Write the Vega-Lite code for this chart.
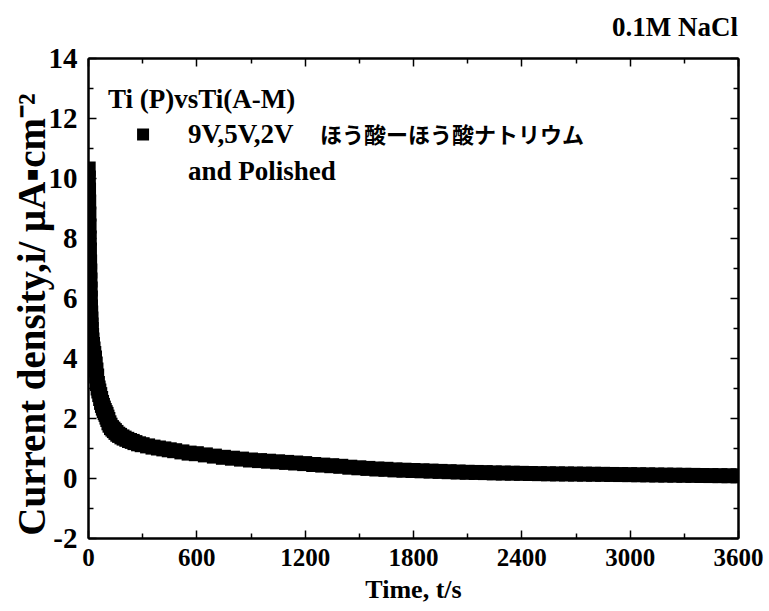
{
  "$schema": "https://vega.github.io/schema/vega-lite/v6.json",
  "width": 650,
  "height": 480,
  "autosize": "none",
  "padding": {"left": 88, "top": 58, "right": 31, "bottom": 73},
  "background": "white",
  "config": {
    "view": {"stroke": null},
    "axis": {
      "grid": false,
      "zindex": 1,
      "domainColor": "black",
      "domainWidth": 2,
      "tickColor": "black",
      "tickWidth": 1.5,
      "labelFont": "Liberation Serif",
      "labelFontWeight": "bold",
      "labelColor": "black",
      "labelFlush": false,
      "labelOverlap": false,
      "titleFont": "Liberation Serif",
      "titleFontWeight": "bold",
      "titleColor": "black"
    },
    "text": {"font": "Liberation Serif", "fontWeight": "bold", "color": "black", "baseline": "alphabetic"}
  },
  "datasets": {
    "current": [
      {"t": 1, "v": 10.3}, {"t": 2, "v": 10.0}, {"t": 3, "v": 9.6}, {"t": 4, "v": 9.2},
      {"t": 5, "v": 8.8}, {"t": 6, "v": 8.4}, {"t": 7, "v": 8.0}, {"t": 8, "v": 7.6},
      {"t": 9, "v": 7.2}, {"t": 10, "v": 6.9}, {"t": 11, "v": 6.6}, {"t": 12, "v": 6.3},
      {"t": 13, "v": 6.0}, {"t": 14, "v": 5.7}, {"t": 15, "v": 5.5}, {"t": 16, "v": 5.3},
      {"t": 17, "v": 5.1}, {"t": 18, "v": 4.95}, {"t": 20, "v": 4.75}, {"t": 22, "v": 4.6},
      {"t": 25, "v": 4.45}, {"t": 28, "v": 4.3}, {"t": 32, "v": 4.15}, {"t": 36, "v": 4.0},
      {"t": 40, "v": 3.8}, {"t": 44, "v": 3.6}, {"t": 48, "v": 3.4}, {"t": 52, "v": 3.15},
      {"t": 56, "v": 3.0}, {"t": 60, "v": 2.9}, {"t": 65, "v": 2.78}, {"t": 70, "v": 2.65},
      {"t": 75, "v": 2.52}, {"t": 80, "v": 2.42}, {"t": 85, "v": 2.33}, {"t": 90, "v": 2.25},
      {"t": 95, "v": 2.18}, {"t": 100, "v": 2.12}, {"t": 105, "v": 2.03}, {"t": 110, "v": 1.95},
      {"t": 116, "v": 1.84}, {"t": 122, "v": 1.76}, {"t": 130, "v": 1.68}, {"t": 138, "v": 1.63},
      {"t": 146, "v": 1.58}, {"t": 155, "v": 1.52}, {"t": 165, "v": 1.46}, {"t": 175, "v": 1.42},
      {"t": 188, "v": 1.37}, {"t": 200, "v": 1.33}, {"t": 215, "v": 1.29}, {"t": 230, "v": 1.25},
      {"t": 245, "v": 1.22}, {"t": 260, "v": 1.18}, {"t": 280, "v": 1.14}, {"t": 300, "v": 1.11},
      {"t": 330, "v": 1.07}, {"t": 360, "v": 1.03}, {"t": 390, "v": 1.0}, {"t": 420, "v": 0.97},
      {"t": 450, "v": 0.94}, {"t": 480, "v": 0.91}, {"t": 520, "v": 0.87}, {"t": 560, "v": 0.83},
      {"t": 600, "v": 0.81}, {"t": 650, "v": 0.77}, {"t": 700, "v": 0.73}, {"t": 750, "v": 0.69},
      {"t": 800, "v": 0.66}, {"t": 850, "v": 0.63}, {"t": 900, "v": 0.6}, {"t": 950, "v": 0.58},
      {"t": 1000, "v": 0.56}, {"t": 1050, "v": 0.54}, {"t": 1100, "v": 0.52}, {"t": 1150, "v": 0.5},
      {"t": 1200, "v": 0.48}, {"t": 1250, "v": 0.45}, {"t": 1300, "v": 0.43}, {"t": 1350, "v": 0.41},
      {"t": 1400, "v": 0.39}, {"t": 1450, "v": 0.36}, {"t": 1500, "v": 0.34}, {"t": 1550, "v": 0.32},
      {"t": 1600, "v": 0.3}, {"t": 1650, "v": 0.29}, {"t": 1700, "v": 0.27}, {"t": 1750, "v": 0.26},
      {"t": 1800, "v": 0.25}, {"t": 1850, "v": 0.24}, {"t": 1900, "v": 0.23}, {"t": 1950, "v": 0.22},
      {"t": 2000, "v": 0.21}, {"t": 2050, "v": 0.2}, {"t": 2100, "v": 0.19}, {"t": 2150, "v": 0.185},
      {"t": 2200, "v": 0.18}, {"t": 2250, "v": 0.17}, {"t": 2300, "v": 0.165}, {"t": 2350, "v": 0.16},
      {"t": 2400, "v": 0.155}, {"t": 2450, "v": 0.15}, {"t": 2500, "v": 0.145}, {"t": 2550, "v": 0.14},
      {"t": 2600, "v": 0.137}, {"t": 2650, "v": 0.134}, {"t": 2700, "v": 0.131}, {"t": 2750, "v": 0.128},
      {"t": 2800, "v": 0.125}, {"t": 2850, "v": 0.122}, {"t": 2900, "v": 0.118}, {"t": 2950, "v": 0.115},
      {"t": 3000, "v": 0.112}, {"t": 3050, "v": 0.108}, {"t": 3100, "v": 0.105}, {"t": 3150, "v": 0.1},
      {"t": 3200, "v": 0.097}, {"t": 3250, "v": 0.094}, {"t": 3300, "v": 0.09}, {"t": 3350, "v": 0.087},
      {"t": 3400, "v": 0.084}, {"t": 3450, "v": 0.081}, {"t": 3500, "v": 0.078}, {"t": 3550, "v": 0.075},
      {"t": 3600, "v": 0.072}
    ]
  },
  "layer": [
    {
      "data": {"name": "current"},
      "mark": {"type": "point", "shape": "square", "filled": true, "size": 225, "color": "black", "opacity": 1, "strokeWidth": 0, "clip": true},
      "encoding": {
        "x": {
          "field": "t", "type": "quantitative",
          "scale": {"domain": [0, 3600], "nice": false, "zero": false},
          "axis": {
            "orient": "bottom",
            "values": [0, 600, 1200, 1800, 2400, 3000, 3600],
            "format": "d",
            "tickSize": -8,
            "labelPadding": 15,
            "labelFontSize": 25,
            "title": "Time, t/s",
            "titleFontSize": 26,
            "titlePadding": 6
          }
        },
        "y": {
          "field": "v", "type": "quantitative",
          "scale": {"domain": [-2, 14], "nice": false, "zero": false},
          "axis": {
            "orient": "left",
            "values": [-2, 0, 2, 4, 6, 8, 10, 12, 14],
            "labelExpr": "toString(datum.value)",
            "tickSize": -8,
            "labelPadding": 19,
            "labelFontSize": 29,
            "title": "Current density,i/ μA▪cm⁻²",
            "titleFontSize": 39,
            "titlePadding": -4,
            "titleY": 256
          }
        }
      }
    },
    {
      "mark": {"type": "point", "opacity": 0},
      "encoding": {
        "x": {"datum": 0, "type": "quantitative", "axis": {"orient": "top", "values": [0, 600, 1200, 1800, 2400, 3000, 3600], "tickSize": -8, "labels": false, "title": null}},
        "y": {"datum": 0, "type": "quantitative", "axis": {"orient": "right", "values": [-2, 0, 2, 4, 6, 8, 10, 12, 14], "tickSize": -8, "labels": false, "title": null}}
      }
    },
    {
      "mark": {"type": "point", "opacity": 0},
      "encoding": {
        "x": {"datum": 0, "type": "quantitative", "axis": {"orient": "bottom", "values": [300, 900, 1500, 2100, 2700, 3300], "tickSize": -5, "labels": false, "title": null}},
        "y": {"datum": 0, "type": "quantitative", "axis": {"orient": "left", "values": [-1, 1, 3, 5, 7, 9, 11, 13], "tickSize": -5, "labels": false, "title": null}}
      }
    },
    {
      "mark": {"type": "point", "opacity": 0},
      "encoding": {
        "x": {"datum": 0, "type": "quantitative", "axis": {"orient": "top", "values": [300, 900, 1500, 2100, 2700, 3300], "tickSize": -5, "labels": false, "title": null}},
        "y": {"datum": 0, "type": "quantitative", "axis": {"orient": "right", "values": [-1, 1, 3, 5, 7, 9, 11, 13], "tickSize": -5, "labels": false, "title": null}}
      }
    },
    {
      "data": {"values": [{}]},
      "mark": {"type": "text", "text": "0.1M NaCl", "align": "right", "fontSize": 27},
      "encoding": {
        "x": {"datum": 3600, "type": "quantitative", "axis": null},
        "y": {"datum": 14.73, "type": "quantitative", "axis": null}
      }
    },
    {
      "data": {"values": [{}]},
      "mark": {"type": "text", "text": "Ti (P)vsTi(A-M)", "align": "left", "fontSize": 27},
      "encoding": {
        "x": {"datum": 111, "type": "quantitative", "axis": null},
        "y": {"datum": 12.34, "type": "quantitative", "axis": null}
      }
    },
    {
      "data": {"values": [{}]},
      "mark": {"type": "point", "shape": "square", "filled": true, "size": 144, "color": "black", "opacity": 1, "strokeWidth": 0},
      "encoding": {
        "x": {"datum": 305, "type": "quantitative", "axis": null},
        "y": {"datum": 11.45, "type": "quantitative", "axis": null}
      }
    },
    {
      "data": {"values": [{}]},
      "mark": {"type": "text", "text": "9V,5V,2V", "align": "left", "fontSize": 27},
      "encoding": {
        "x": {"datum": 554, "type": "quantitative", "axis": null},
        "y": {"datum": 11.18, "type": "quantitative", "axis": null}
      }
    },
    {
      "data": {"values": [{}]},
      "mark": {"type": "text", "text": "ほう酸ーほう酸ナトリウム", "align": "left", "font": "Noto Sans CJK JP", "fontSize": 22},
      "encoding": {
        "x": {"datum": 1285, "type": "quantitative", "axis": null},
        "y": {"datum": 11.18, "type": "quantitative", "axis": null}
      }
    },
    {
      "data": {"values": [{}]},
      "mark": {"type": "text", "text": "and Polished", "align": "left", "fontSize": 27},
      "encoding": {
        "x": {"datum": 554, "type": "quantitative", "axis": null},
        "y": {"datum": 9.94, "type": "quantitative", "axis": null}
      }
    }
  ],
  "resolve": {"axis": {"x": "independent", "y": "independent"}}
}
